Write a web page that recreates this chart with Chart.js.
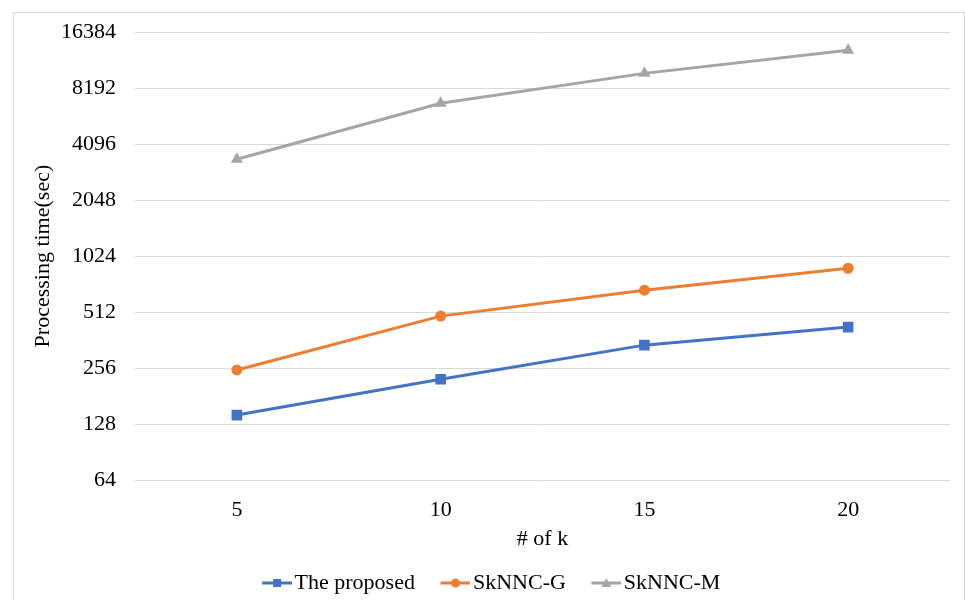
<!DOCTYPE html>
<html>
<head>
<meta charset="utf-8">
<script src="https://cdn.jsdelivr.net/npm/chart.js@4"></script>
<style>
    body { margin: 0; background: #fff; }
    #wrap { width: 965px; height: 600px; }
</style>
</head>
<body>
<div id="wrap"><canvas id="myChart" width="965" height="600"></canvas></div>
<script>
"use strict";

// chart data
const kValues = ["5", "10", "15", "20"];
const proposedTimes = [143, 223, 340, 425];
const sknncGTimes = [250, 487, 671, 881];
const sknncMTimes = [3400, 6800, 9840, 13100];
const yTicks = [64, 128, 256, 512, 1024, 2048, 4096, 8192, 16384];

const fontFamily = "'Liberation Serif', 'Times New Roman', serif";
const fontSize = 22;
const gridColor = "#d9d9d9";

// empty space left of the legend line, so items get the office spacing
const legendGap = 28;

/**
 * small picture for the legend: a line with the marker on it
 */
function legendIcon(color, shape) {
    let c = document.createElement("canvas");
    c.width = legendGap + 30;
    c.height = 14;
    let g = c.getContext("2d");
    g.translate(legendGap, 0);
    g.strokeStyle = color;
    g.fillStyle = color;
    g.lineWidth = 3;
    g.beginPath();
    g.moveTo(0, 7);
    g.lineTo(30, 7);
    g.stroke();
    g.beginPath();
    if (shape === "rect") {
        g.fillRect(11, 3, 8, 8);
    } else if (shape === "circle") {
        g.arc(15, 7, 4.5, 0, Math.PI * 2);
        g.fill();
    } else {
        g.moveTo(15, 2);
        g.lineTo(20, 11);
        g.lineTo(10, 11);
        g.closePath();
        g.fill();
    }
    return c;
}

// border around the whole chart, like the office frame
const framePlugin = {
    id: "frame",
    beforeDraw(chart) {
        let ctx = chart.ctx;
        ctx.save();
        ctx.fillStyle = "#fff";
        ctx.fillRect(0, 0, chart.width, chart.height);
        ctx.strokeStyle = gridColor;
        ctx.lineWidth = 1;
        ctx.strokeRect(13.5, 12.5, 951, 600);
        ctx.restore();
    }
};

const ctx = document.getElementById("myChart");
new Chart(ctx, {
    type: "line",
    data: {
        labels: kValues,
        datasets: [{
            label: "The proposed",
            data: proposedTimes,
            borderColor: "#4472C4",
            backgroundColor: "#4472C4",
            pointStyle: "rect",
            pointRadius: 7.5,
            legendIcon: legendIcon("#4472C4", "rect")
        }, {
            label: "SkNNC-G",
            data: sknncGTimes,
            borderColor: "#ED7D31",
            backgroundColor: "#ED7D31",
            pointStyle: "circle",
            pointRadius: 5.5,
            legendIcon: legendIcon("#ED7D31", "circle")
        }, {
            label: "SkNNC-M",
            data: sknncMTimes,
            borderColor: "#A5A5A5",
            backgroundColor: "#A5A5A5",
            pointStyle: "triangle",
            pointRadius: 7,
            legendIcon: legendIcon("#A5A5A5", "triangle")
        }]
    },
    options: {
        responsive: false,
        animation: false,
        elements: {
            line: { borderWidth: 3, tension: 0 },
            point: { borderWidth: 0, hoverRadius: 7 }
        },
        layout: {
            padding: { left: 13, right: 15, top: 31, bottom: -4 }
        },
        scales: {
            x: {
                offset: true,
                grid: { display: false },
                border: { display: false },
                ticks: {
                    color: "#000",
                    padding: 9,
                    font: { family: fontFamily, size: fontSize }
                },
                title: {
                    display: true,
                    text: "# of k",
                    color: "#000",
                    padding: { top: 0, bottom: 14 },
                    font: { family: fontFamily, size: fontSize }
                },
                afterFit(scale) { scale.height = 86; }
            },
            y: {
                type: "logarithmic",
                min: 64,
                max: 16384,
                grid: { color: gridColor, drawTicks: false },
                border: { display: false },
                afterBuildTicks(scale) {
                    scale.ticks = yTicks.map(v => ({ value: v }));
                },
                ticks: {
                    color: "#000",
                    padding: 19,
                    font: { family: fontFamily, size: fontSize },
                    callback: (value) => String(value)
                },
                title: {
                    display: true,
                    text: "Processing time(sec)",
                    color: "#000",
                    padding: { top: 17, bottom: 0 },
                    font: { family: fontFamily, size: fontSize }
                },
                afterFit(scale) { scale.width = 122; }
            }
        },
        plugins: {
            legend: {
                position: "bottom",
                labels: {
                    color: "#000",
                    usePointStyle: true,
                    pointStyleWidth: legendGap + 13,
                    padding: 6,
                    font: { family: fontFamily, size: fontSize },
                    generateLabels(chart) {
                        return chart.data.datasets.map((ds, i) => ({
                            text: ds.label,
                            pointStyle: ds.legendIcon,
                            fillStyle: ds.borderColor,
                            strokeStyle: ds.borderColor,
                            lineWidth: 0,
                            fontColor: "#000",
                            hidden: !chart.isDatasetVisible(i),
                            datasetIndex: i
                        }));
                    }
                }
            },
            tooltip: { enabled: false }
        }
    },
    plugins: [framePlugin]
});
</script>
</body>
</html>
